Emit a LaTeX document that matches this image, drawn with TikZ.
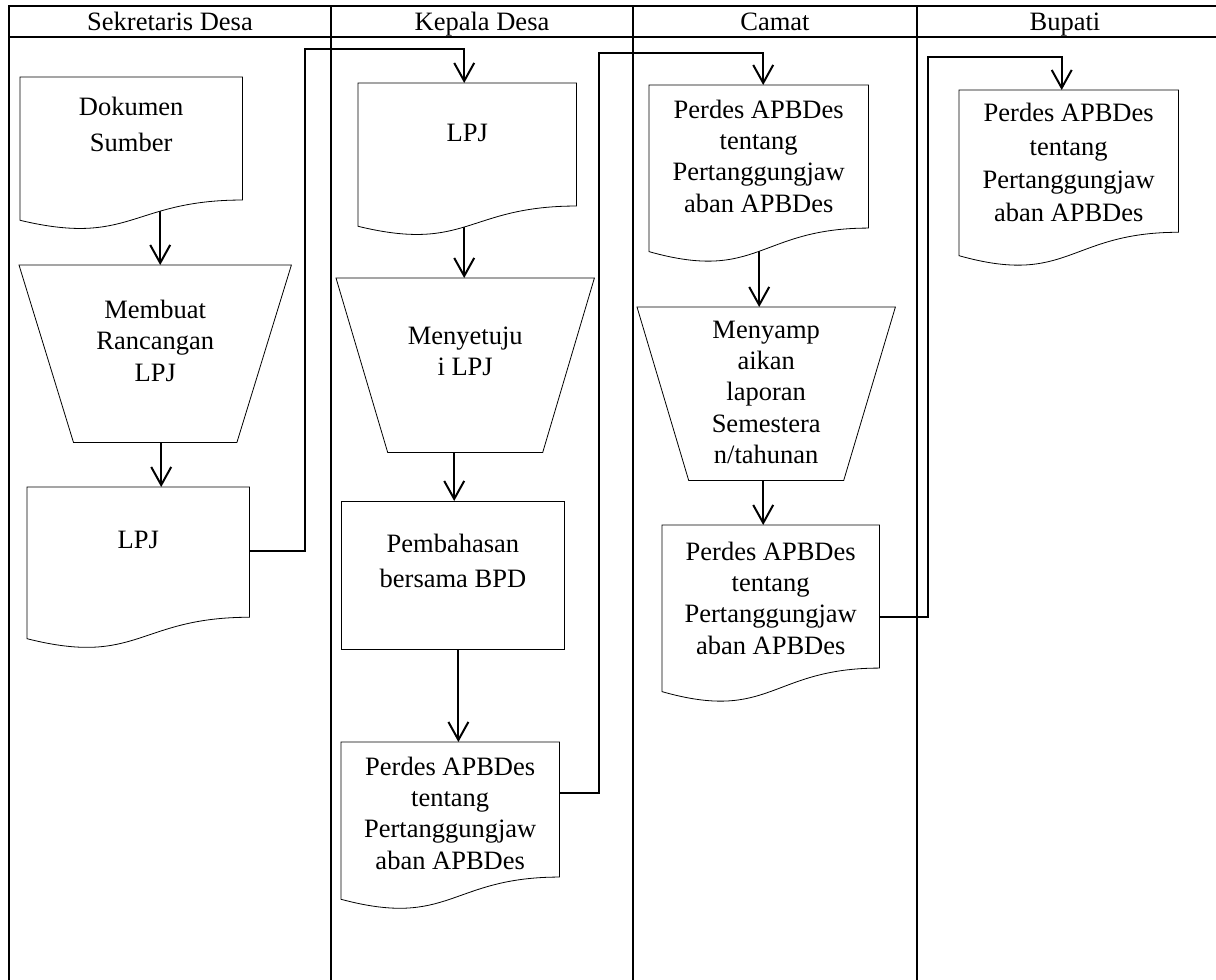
\documentclass[tikz,border=0pt]{standalone}
\usepackage{fontspec}
\setmainfont{Liberation Serif}
\usetikzlibrary{calc,arrows.meta}
\pgfdeclarelayer{back}
\pgfsetlayers{back,main}

% document symbol with a wavy lower edge
\newcommand\DocOutline[1]{%
  \filldraw[shapeline] (#1.north west) -- (#1.north east)
    -- ($(#1.north east)!0.802!(#1.south east)$)
    .. controls ($(#1.north)!0.802!(#1.south)$) and ($(#1.north)!1.1075!(#1.south)$)
    .. ($(#1.north west)!0.934!(#1.south west)$) -- cycle;}
% manual operation symbol (trapezoid, narrow at the bottom)
\newcommand\TrapOutline[1]{%
  \filldraw[shapeline] (#1.north west) -- (#1.north east)
    -- ($(#1.south east)!0.2!(#1.south west)$)
    -- ($(#1.south west)!0.2!(#1.south east)$) -- cycle;}

\tikzset{
  shapeline/.style={draw=black, fill=white, line width=0.8pt},
  docarea/.style={rectangle, draw=none, inner sep=0pt, anchor=north west},
  procbox/.style={rectangle, draw=black, fill=white, line width=0.8pt, inner sep=0pt, anchor=north west},
  lbl/.style={align=center, anchor=north, inner sep=0pt, font=\fontsize{26.5}{31.3}\selectfont},
  hdr/.style={anchor=base, inner sep=0pt, font=\fontsize{26.5}{31.3}\selectfont},
  flow/.style={line width=2pt, -{Straight Barb[length=18pt,width=20pt]}},
  gridline/.style={line width=2pt},
}

\begin{document}
\begin{tikzpicture}[x=1pt, y=-1pt]
\useasboundingbox (0,0) rectangle (1216,980);

% swimlane table (runs past the right edge)
\draw[gridline] (9,6) -- (1217,6);
\draw[gridline] (9,37) -- (1217,37);
\foreach \xx in {9,331,633,917}
  \draw[gridline] (\xx,5) -- (\xx,980);

\node[hdr] (h1) at (170,30.7) {Sekretaris Desa};
\node[hdr] (h2) at (482,30.7) {Kepala Desa};
\node[hdr] (h3) at (775,30.7) {Camat};
\node[hdr] (h4) at (1065,30.7) {Bupati};

% shape areas
\node[docarea, minimum width=222pt, minimum height=153pt] (D1) at (20,77) {};
\node[docarea, minimum width=272pt, minimum height=177pt] (T1) at (19,265) {};
\node[docarea, minimum width=222pt, minimum height=162pt] (D2) at (27,487) {};
\node[docarea, minimum width=218pt, minimum height=153pt] (D3) at (358,83) {};
\node[docarea, minimum width=258pt, minimum height=174pt] (T2) at (336,278) {};
\node[procbox, minimum width=223pt, minimum height=148pt] (R1) at (341,501) {};
\node[docarea, minimum width=218pt, minimum height=168pt] (D4) at (341,742) {};
\node[docarea, minimum width=219pt, minimum height=178pt] (D5) at (649,85) {};
\node[docarea, minimum width=258pt, minimum height=173pt] (T3) at (637,307) {};
\node[docarea, minimum width=217pt, minimum height=178pt] (D6) at (662,525) {};
\node[docarea, minimum width=219pt, minimum height=177pt] (D7) at (959,90) {};

% outlines
\DocOutline{D1}
\TrapOutline{T1}
\DocOutline{D2}
\DocOutline{D3}
\TrapOutline{T2}
\DocOutline{D4}
\DocOutline{D5}
\TrapOutline{T3}
\DocOutline{D6}
\DocOutline{D7}

% texts
\node[lbl, font=\fontsize{26.5}{36}\selectfont] (D1t) at ([yshift=-12.8pt]D1.north) {\strut Dokumen\\Sumber};
\node[lbl] (T1t) at ([yshift=-31.4pt]T1.north) {\strut Membuat\\Rancangan\\LPJ};
\node[lbl] (D2t) at ([yshift=-39pt]D2.north) {\strut LPJ};
\node[lbl] (D3t) at ([yshift=-36.1pt]D3.north) {\strut LPJ};
\node[lbl] (T2t) at ([yshift=-44.1pt]T2.north) {\strut Menyetuju\\i LPJ};
\node[lbl, font=\fontsize{26.5}{35}\selectfont] (R1t) at ([yshift=-26.5pt]R1.north) {\strut Pembahasan\\bersama BPD};
\node[lbl] (D4t) at ([yshift=-11.1pt]D4.north) {\strut Perdes APBDes\\tentang\\Pertanggungjaw\\aban APBDes};
\node[lbl] (D5t) at ([yshift=-11.1pt]D5.north) {\strut Perdes APBDes\\tentang\\Pertanggungjaw\\aban APBDes};
\node[lbl] (T3t) at ([yshift=-9.1pt]T3.north) {\strut Menyamp\\aikan\\laporan\\Semestera\\n/tahunan};
\node[lbl] (D6t) at ([yshift=-13.1pt]D6.north) {\strut Perdes APBDes\\tentang\\Pertanggungjaw\\aban APBDes};
\node[lbl, font=\fontsize{26.5}{33.3}\selectfont] (D7t) at ([yshift=-8.4pt]D7.north) {\strut Perdes APBDes\\tentang\\Pertanggungjaw\\aban APBDes};

% connectors (behind the shapes)
\coordinate (a1) at ($(D1.center)+(29,0)$);
\coordinate (a2) at ($(T1.center)+(6,0)$);
\coordinate (a3) at ($(D3.center)+(-3,0)$);
\coordinate (a4) at ($(T2.center)+(-11,0)$);
\coordinate (a5) at ($(R1.center)+(5.5,0)$);
\coordinate (a6) at ($(D5.center)+(0.5,0)$);
\coordinate (a7) at ($(T3.center)+(-3,0)$);
\coordinate (k1) at (305,49);
\coordinate (k2) at (599,53);
\coordinate (k3) at (928,57);

\begin{pgfonlayer}{back}
\draw[flow] (a1) -- (a1 |- T1.north);
\draw[flow] (a2) -- (a2 |- D2.north);
\draw[flow] (a3) -- (a3 |- T2.north);
\draw[flow] (a4) -- (a4 |- R1.north);
\draw[flow] (a5) -- (a5 |- D4.north);
\draw[flow] (a6) -- (a6 |- T3.north);
\draw[flow] (a7) -- (a7 |- D6.north);
\draw[flow] ([yshift=17pt]D2.east) -| (k1) -| ([xshift=-3pt]D3.north);
\draw[flow] ([yshift=33pt]D4.east) -| (k2) -| ([xshift=4.5pt]D5.north);
\draw[flow] ([yshift=-3pt]D6.east) -| (k3) -| ([xshift=-7pt]D7.north);
\end{pgfonlayer}
\end{tikzpicture}
\end{document}
